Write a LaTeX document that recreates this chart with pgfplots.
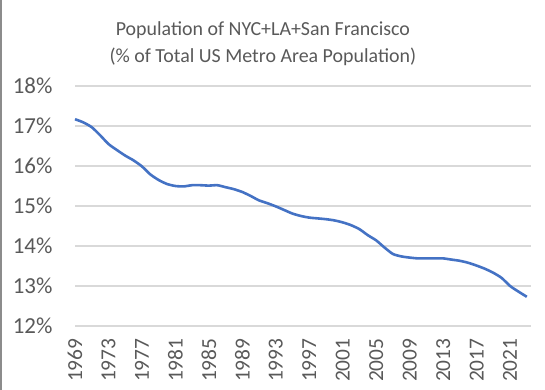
\documentclass[border=0pt]{standalone}
\usepackage{fontspec}
\setmainfont{Carlito}
\usepackage{pgfplots}
\pgfplotsset{compat=1.18}
\definecolor{txtgray}{HTML}{595959}
\definecolor{gridgray}{HTML}{D9D9D9}
\definecolor{lineblue}{HTML}{4472C4}
\begin{document}
\begin{tikzpicture}
\path[use as bounding box] (0,0) rectangle (545bp,390bp);
\draw[color=black!45, line width=1.5bp] (0.75bp,0) -- (0.75bp,390bp);
\begin{axis}[
  at={(75bp,64bp)}, anchor=south west,
  scale only axis, width=456bp, height=240bp,
  xmin=1969, xmax=2023.5,
  ymin=12, ymax=18,
  axis line style={draw=none},
  ytick={12,13,14,15,16,17,18},
  yticklabels={12\%,13\%,14\%,15\%,16\%,17\%,18\%},
  xtick={1969,1973,...,2021},
  xticklabel style={rotate=90, anchor=east, xshift=-9bp, font=\fontsize{21.5}{21.5}\selectfont, text=txtgray, /pgf/number format/1000 sep={}},
  yticklabel style={font=\fontsize{23}{23}\selectfont, text=txtgray, xshift=-19bp},
  /pgf/number format/assume math mode=true,
  tick style={draw=none},
  ymajorgrids, grid style={gridgray, line width=1.2bp},
  clip=false,
  title={Population of NYC+LA+San Francisco\\(\% of Total US Metro Area Population)},
  title style={at={(axis description cs:0.412,1.153)}, anchor=center, align=center, font=\fontsize{20}{27}\selectfont, text=txtgray},
]
\draw[gridgray, line width=1.2bp] (axis cs:1969,12) -- (axis cs:2023.5,12);
\addplot[lineblue, line width=2.6bp, smooth, tension=0.4] table {
x y
1969 17.17
1970 17.09
1971 16.97
1972 16.77
1973 16.55
1974 16.40
1975 16.26
1976 16.14
1977 15.99
1978 15.79
1979 15.65
1980 15.55
1981 15.50
1982 15.49
1983 15.52
1984 15.52
1985 15.51
1986 15.52
1987 15.47
1988 15.42
1989 15.35
1990 15.25
1991 15.14
1992 15.07
1993 14.99
1994 14.90
1995 14.81
1996 14.75
1997 14.71
1998 14.69
1999 14.67
2000 14.64
2001 14.59
2002 14.52
2003 14.42
2004 14.27
2005 14.14
2006 13.96
2007 13.80
2008 13.74
2009 13.71
2010 13.69
2011 13.69
2012 13.69
2013 13.69
2014 13.66
2015 13.63
2016 13.58
2017 13.51
2018 13.43
2019 13.33
2020 13.20
2021 13.00
2022 12.86
2023 12.73
};
\end{axis}
\end{tikzpicture}
\end{document}
